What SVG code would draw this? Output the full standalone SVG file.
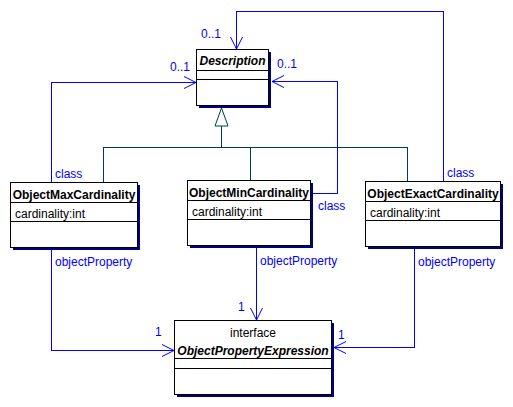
<svg xmlns="http://www.w3.org/2000/svg" width="513" height="407" viewBox="0 0 513 407">
<style>
.bg{fill:#ffffff}
.box{fill:#ffffff;stroke:#000000;stroke-width:1}
.shadow{fill:#000080}
.div{stroke:#000000;stroke-width:1}
.name{font-family:"Liberation Sans",Arial,sans-serif;font-size:12px;font-weight:bold;text-anchor:middle;fill:#000000}
.iname{font-family:"Liberation Sans",Arial,sans-serif;font-size:12px;font-weight:bold;font-style:italic;text-anchor:middle;fill:#000000}
.attr{font-family:"Liberation Sans",Arial,sans-serif;font-size:12px;fill:#000000}
.ster{font-family:"Liberation Sans",Arial,sans-serif;font-size:12px;text-anchor:middle;fill:#000000}
.lbl{font-family:"Liberation Sans",Arial,sans-serif;font-size:12px;fill:#0000ff}
.assoc{fill:none;stroke:#0000ff;stroke-width:1}
.gen{fill:none;stroke:#004040;stroke-width:1}
</style>
<defs>
<marker id="open" markerUnits="userSpaceOnUse" markerWidth="16" markerHeight="16" viewBox="-14 -8 16 16" refX="0" refY="0" orient="auto" overflow="visible">
<path d="M-12,-6 L0,0 L-12,6" fill="none" stroke="#0000ff" stroke-width="1"/>
</marker>
</defs>
<rect class="bg" x="0" y="0" width="513" height="407"/>

<g id="connectors" shape-rendering="crispEdges">
<polyline class="gen" points="103.5,182 103.5,147.5 407.5,147.5 407.5,181"/>
<line class="gen" x1="250.5" y1="147.5" x2="250.5" y2="180"/>
<line class="gen" x1="221.5" y1="147.5" x2="221.5" y2="126"/>
<polygon points="221.5,108 215,126 228,126" fill="#ffffff" stroke="#004040" stroke-width="1" shape-rendering="auto"/>

<polyline class="assoc" points="51.5,182 51.5,82.5 196,82.5" marker-end="url(#open)"/>
<polyline class="assoc" points="310,193.5 337.5,193.5 337.5,81.5 272,81.5" marker-end="url(#open)"/>
<polyline class="assoc" points="443.5,181 443.5,11.5 236.5,11.5 236.5,49" marker-end="url(#open)"/>
<polyline class="assoc" points="51.5,247 51.5,350.5 174,350.5" marker-end="url(#open)"/>
<polyline class="assoc" points="256.5,245 256.5,320" marker-end="url(#open)"/>
<polyline class="assoc" points="414.5,246 414.5,347.5 334,347.5" marker-end="url(#open)"/>

<text class="lbl" x="170" y="71">0..1</text>
<text class="lbl" x="55" y="178">class</text>
<text class="lbl" x="277" y="68">0..1</text>
<text class="lbl" x="318" y="210">class</text>
<text class="lbl" x="201" y="38">0..1</text>
<text class="lbl" x="447" y="177">class</text>
<text class="lbl" x="55" y="266">objectProperty</text>
<text class="lbl" x="155" y="336">1</text>
<text class="lbl" x="260" y="265">objectProperty</text>
<text class="lbl" x="238" y="311">1</text>
<text class="lbl" x="418" y="266">objectProperty</text>
<text class="lbl" x="338" y="339">1</text>
</g>

<g id="Description" shape-rendering="crispEdges">
<rect class="shadow" x="199" y="52" width="72" height="56"/>
<rect class="box" x="196.5" y="49.5" width="72" height="56"/>
<line class="div" x1="196.5" y1="70.5" x2="268.5" y2="70.5"/>
<line class="div" x1="196.5" y1="79.5" x2="268.5" y2="79.5"/>
<text class="iname" x="232.5" y="65" shape-rendering="auto">Description</text>
</g>

<g id="ObjectMaxCardinality" shape-rendering="crispEdges">
<rect class="shadow" x="13" y="185" width="127" height="65"/>
<rect class="box" x="10.5" y="182.5" width="127" height="65"/>
<line class="div" x1="10.5" y1="202.5" x2="137.5" y2="202.5"/>
<line class="div" x1="10.5" y1="221.5" x2="137.5" y2="221.5"/>
<text class="name" x="74" y="199">ObjectMaxCardinality</text>
<text class="attr" x="15" y="218">cardinality:int</text>
</g>

<g id="ObjectMinCardinality" shape-rendering="crispEdges">
<rect class="shadow" x="190" y="183" width="123" height="65"/>
<rect class="box" x="187.5" y="180.5" width="123" height="65"/>
<line class="div" x1="187.5" y1="200.5" x2="310.5" y2="200.5"/>
<line class="div" x1="187.5" y1="219.5" x2="310.5" y2="219.5"/>
<text class="name" x="249" y="197">ObjectMinCardinality</text>
<text class="attr" x="192" y="216">cardinality:int</text>
</g>

<g id="ObjectExactCardinality" shape-rendering="crispEdges">
<rect class="shadow" x="368" y="184" width="135" height="65"/>
<rect class="box" x="365.5" y="181.5" width="135" height="65"/>
<line class="div" x1="365.5" y1="201.5" x2="500.5" y2="201.5"/>
<line class="div" x1="365.5" y1="220.5" x2="500.5" y2="220.5"/>
<text class="name" x="433" y="198">ObjectExactCardinality</text>
<text class="attr" x="370" y="217">cardinality:int</text>
</g>

<g id="ObjectPropertyExpression" shape-rendering="crispEdges">
<rect class="shadow" x="177" y="323" width="157" height="74"/>
<rect class="box" x="174.5" y="320.5" width="157" height="74"/>
<line class="div" x1="174.5" y1="358.5" x2="331.5" y2="358.5"/>
<line class="div" x1="174.5" y1="368.5" x2="331.5" y2="368.5"/>
<text class="ster" x="253" y="337">interface</text>
<text class="iname" x="253" y="355">ObjectPropertyExpression</text>
</g>
</svg>
